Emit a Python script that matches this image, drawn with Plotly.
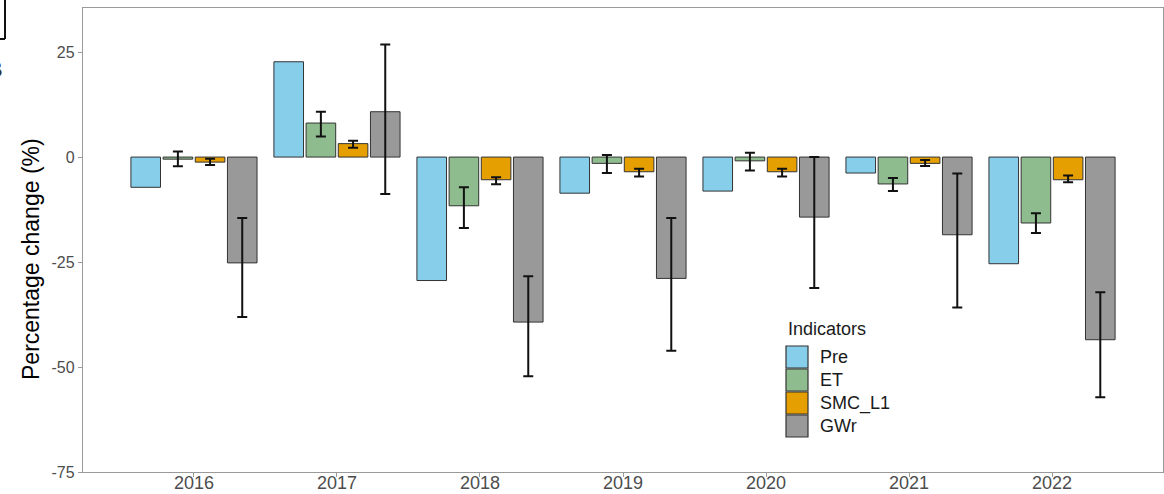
import numpy as np
import plotly.graph_objects as go

# Years on the x axis
years = ["2016", "2017", "2018", "2019", "2020", "2021", "2022"]

# Indicator series (percentage change, %)
indicators = ["Pre", "ET", "SMC_L1", "GWr"]
pre = [-7.2, 22.7, -29.4, -8.6, -8.1, -3.8, -25.4]
et = [-0.5, 8.1, -11.6, -1.5, -0.9, -6.4, -15.7]
smc = [-1.2, 3.2, -5.4, -3.5, -3.5, -1.5, -5.4]
gwr = [-25.2, 10.8, -39.3, -28.9, -14.3, -18.5, -43.5]

# Error-bar limits (ymax / ymin) for the indicators that have them
et_hi = [1.3, 10.8, -7.2, 0.5, 1.0, -5.0, -13.4]
et_lo = [-2.2, 4.9, -16.9, -3.8, -3.2, -8.1, -18.1]
smc_hi = [-0.4, 3.9, -4.8, -2.8, -2.8, -0.7, -4.4]
smc_lo = [-1.9, 2.2, -6.5, -4.6, -4.6, -2.1, -6.0]
gwr_hi = [-14.5, 26.8, -28.4, -14.5, 0.0, -3.9, -32.2]
gwr_lo = [-38.1, -8.8, -52.2, -46.1, -31.2, -35.8, -57.2]

# Axis ticks
y_ticks = [25, 0, -25, -50, -75]
y_tick_text = ["25", "0", "-25", "-50", "-75"]

colors = ["#87CEEB", "#8FBC8F", "#E69F00", "#999999"]

series = [
    (pre, None, None),
    (et, et_hi, et_lo),
    (smc, smc_hi, smc_lo),
    (gwr, gwr_hi, gwr_lo),
]

fig = go.Figure()
for name, color, (vals, hi, lo) in zip(indicators, colors, series):
    v = np.array(vals)
    err = None
    if hi is not None:
        err = dict(
            type="data",
            symmetric=False,
            array=np.array(hi) - v,
            arrayminus=v - np.array(lo),
            color="#111111",
            thickness=2,
            width=5,
        )
    fig.add_trace(go.Bar(
        x=years, y=vals, name=name,
        marker=dict(color=color, line=dict(color="#333333", width=1)),
        error_y=err,
        showlegend=False,
    ))

# Figure geometry
W, H = 1164, 494
ML, MR, MT, MB = 83, 1, 8, 22
PW, PH = W - ML - MR, H - MT - MB


def px(x):
    return (x - ML) / PW


def py(y):
    return (H - MB - y) / PH


shapes = []
annotations = []

# Year labels under the x axis (category index positions), tight to the ticks
for i, yr in enumerate(years):
    annotations.append(dict(
        text=yr, x=i, xref="x", y=py(483), yref="paper",
        xanchor="center", yanchor="middle", showarrow=False, borderpad=0,
        font=dict(size=18, color="#4d4d4d"),
    ))

# Legend drawn inside the panel
leg_x, leg_top, key, row_h = 786, 346, 22, 23
annotations.append(dict(
    text="Indicators", x=px(leg_x), y=py(329), xref="paper", yref="paper",
    xanchor="left", yanchor="middle", showarrow=False,
    font=dict(size=18, color="#1a1a1a"),
))
for i, (name, color) in enumerate(zip(indicators, colors)):
    top = leg_top + i * row_h
    shapes.append(dict(
        type="rect", xref="paper", yref="paper",
        x0=px(leg_x), x1=px(leg_x + key), y0=py(top + key), y1=py(top),
        fillcolor=color, line=dict(color="#333333", width=1.2),
    ))
    annotations.append(dict(
        text=name, x=px(818), y=py(top + key / 2), xref="paper", yref="paper",
        xanchor="left", yanchor="middle", showarrow=False,
        font=dict(size=18, color="#1a1a1a"),
    ))

# Y-axis title
annotations.append(dict(
    text="Percentage change (%)", x=px(31), y=py(259), xref="paper", yref="paper",
    xanchor="center", yanchor="middle", textangle=-90, showarrow=False,
    font=dict(size=23, color="#000000"),
))

# Panel tag in the upper-left corner
shapes.append(dict(type="line", xref="paper", yref="paper",
                   x0=px(5), x1=px(5), y0=py(-2), y1=py(39),
                   line=dict(color="#111111", width=2)))
shapes.append(dict(type="line", xref="paper", yref="paper",
                   x0=px(-3), x1=px(5), y0=py(39), y1=py(39),
                   line=dict(color="#111111", width=2)))
annotations.append(dict(
    text="B", x=px(5), y=py(69), xref="paper", yref="paper",
    xanchor="right", yanchor="middle", showarrow=False,
    font=dict(size=22, color="#333333"),
))

fig.update_layout(
    width=W, height=H,
    margin=dict(l=ML, r=MR, t=MT, b=MB, pad=0, autoexpand=False),
    paper_bgcolor="white", plot_bgcolor="white",
    font=dict(family="Arial, Liberation Sans, sans-serif"),
    barmode="group", bargap=0.1, bargroupgap=0.08,
    shapes=shapes, annotations=annotations,
    xaxis=dict(
        type="category", range=[-0.776, 6.776], automargin=False,
        showline=True, mirror=True, linecolor="#9a9a9a", linewidth=1.3,
        ticks="outside", ticklen=4, tickcolor="#9a9a9a", tickwidth=1.3,
        showticklabels=False,
        showgrid=False, zeroline=False,
    ),
    yaxis=dict(
        range=[-75, 35.5], automargin=False,
        tickvals=y_ticks, ticktext=y_tick_text,
        showline=True, mirror=True, linecolor="#9a9a9a", linewidth=1.3,
        ticks="outside", ticklen=4, tickcolor="#9a9a9a", tickwidth=1.3,
        tickfont=dict(size=16, color="#4d4d4d"),
        showgrid=False, zeroline=False,
    ),
)

fig.write_html("out.html")
